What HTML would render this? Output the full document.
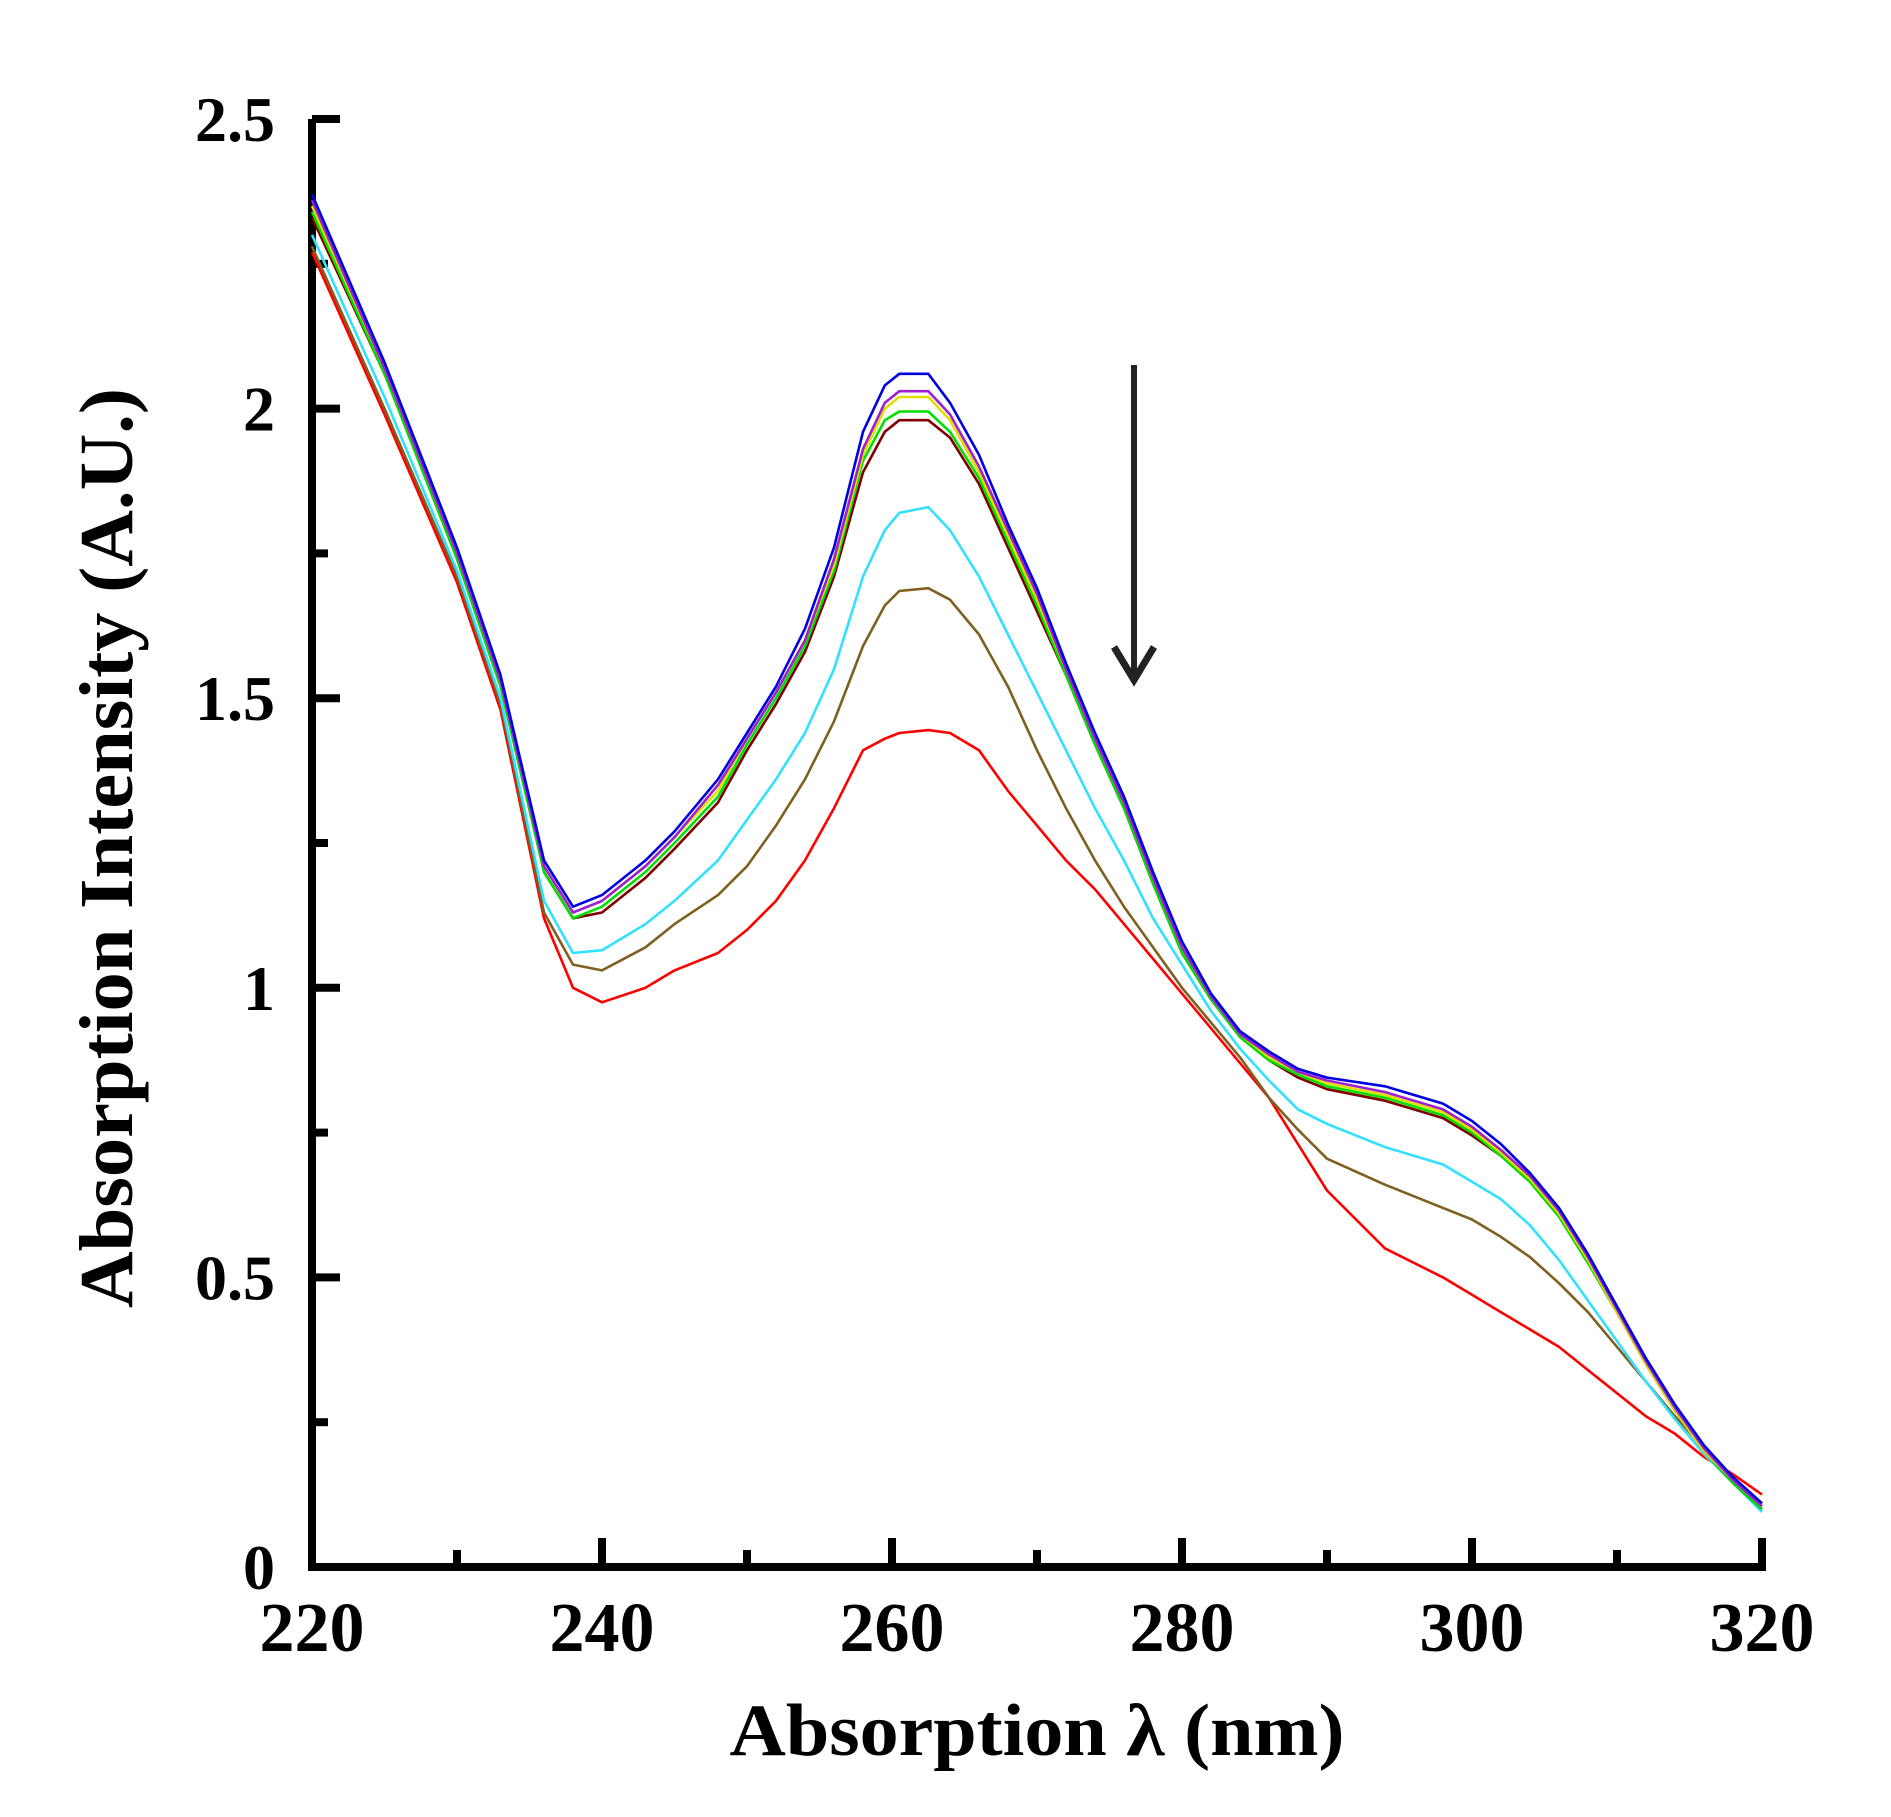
<!DOCTYPE html>
<html><head><meta charset="utf-8"><style>
html,body{margin:0;padding:0;background:#fff;}
svg{display:block;}
text{font-family:"Liberation Serif","DejaVu Serif",serif;font-weight:bold;fill:#000;}
</style></head>
<body>
<svg id="chart" width="1891" height="1817" viewBox="0 0 1891 1817" xmlns="http://www.w3.org/2000/svg">
<g id="axes"></g>
<g id="series"></g>
<g>
<line x1="1134" y1="365" x2="1134" y2="680" stroke="#222" stroke-width="6"/>
<polyline points="1114,647 1134,680 1154,647" fill="none" stroke="#222" stroke-width="7"/>
</g>
<text x="1037" y="1755" font-size="74" text-anchor="middle" textLength="615" lengthAdjust="spacingAndGlyphs">Absorption λ (nm)</text>
<text transform="translate(132,848) rotate(-90)" x="0" y="0" font-size="76" text-anchor="middle" textLength="920" lengthAdjust="spacingAndGlyphs">Absorption Intensity (A.U.)</text>
</svg>
<script>
const wavelengths=[220,225,230,233,236,238,240,243,245,248,250,252,254,256,258,259.5,260.5,262.5,264,266,268,270,272,274,276,278,280,282,284,286,288,290,294,298,300,302,304,306,308,310,312,314,316,318,320];
const redVals=[2.27,1.99,1.70,1.48,1.12,1.00,0.975,1.00,1.03,1.06,1.10,1.15,1.22,1.31,1.41,1.43,1.44,1.445,1.44,1.41,1.34,1.28,1.22,1.17,1.11,1.05,0.99,0.93,0.87,0.81,0.73,0.65,0.55,0.50,0.47,0.44,0.41,0.38,0.34,0.30,0.26,0.23,0.19,0.16,0.125];
const oliveVals=[2.28,2.0,1.71,1.49,1.13,1.04,1.03,1.07,1.11,1.16,1.21,1.28,1.36,1.46,1.59,1.66,1.685,1.69,1.67,1.61,1.52,1.41,1.31,1.22,1.14,1.07,1.0,0.94,0.88,0.81,0.755,0.705,0.66,0.62,0.60,0.57,0.535,0.49,0.44,0.38,0.32,0.26,0.205,0.155,0.11];
const cyanVals=[2.30,2.02,1.72,1.50,1.15,1.06,1.065,1.11,1.15,1.22,1.29,1.36,1.44,1.55,1.71,1.79,1.82,1.83,1.79,1.71,1.61,1.51,1.41,1.31,1.22,1.12,1.04,0.96,0.895,0.84,0.79,0.765,0.725,0.695,0.665,0.635,0.59,0.53,0.46,0.39,0.32,0.255,0.195,0.145,0.095];
const maroonVals=[2.33,2.06,1.75,1.53,1.20,1.12,1.13,1.19,1.24,1.32,1.41,1.49,1.58,1.71,1.89,1.96,1.98,1.98,1.95,1.87,1.76,1.65,1.54,1.42,1.31,1.18,1.06,0.98,0.915,0.875,0.845,0.825,0.805,0.775,0.745,0.71,0.665,0.605,0.525,0.44,0.35,0.27,0.20,0.145,0.10];
const greenVals=[2.34,2.06,1.74,1.52,1.20,1.12,1.14,1.20,1.25,1.33,1.42,1.50,1.59,1.72,1.91,1.98,1.995,1.995,1.96,1.88,1.77,1.66,1.54,1.42,1.31,1.18,1.06,0.98,0.915,0.875,0.85,0.83,0.81,0.78,0.75,0.71,0.665,0.605,0.525,0.44,0.35,0.27,0.20,0.145,0.10];
const yellowVals=[2.35,2.07,1.75,1.53,1.21,1.13,1.15,1.21,1.26,1.34,1.43,1.51,1.60,1.73,1.92,2.00,2.02,2.02,1.98,1.89,1.78,1.67,1.55,1.43,1.32,1.19,1.07,0.985,0.92,0.88,0.855,0.835,0.815,0.785,0.755,0.715,0.67,0.61,0.53,0.44,0.35,0.27,0.20,0.15,0.105];
const purpleVals=[2.36,2.07,1.75,1.53,1.21,1.13,1.15,1.21,1.26,1.35,1.43,1.51,1.60,1.74,1.93,2.01,2.03,2.03,1.99,1.90,1.79,1.68,1.55,1.43,1.32,1.19,1.07,0.985,0.92,0.885,0.855,0.84,0.82,0.79,0.76,0.72,0.675,0.615,0.535,0.445,0.355,0.275,0.205,0.15,0.105];
const blueVals=[2.37,2.08,1.76,1.54,1.22,1.14,1.16,1.22,1.27,1.36,1.44,1.52,1.62,1.76,1.96,2.04,2.06,2.06,2.01,1.92,1.80,1.69,1.56,1.44,1.33,1.20,1.08,0.99,0.925,0.89,0.86,0.845,0.83,0.80,0.77,0.73,0.68,0.62,0.54,0.45,0.36,0.28,0.21,0.155,0.11];
const xTickLabels=["220","240","260","280","300","320"];
const yTickLabels=["0","0.5","1","1.5","2","2.5"];

const NS="http://www.w3.org/2000/svg";
const X0=312,X1=1762,Y0=1567,Y1=119;
function sx(v){return X0+(v-220)/(320-220)*(X1-X0);}
function sy(v){return Y0-(v/2.5)*(Y0-Y1);}
function mk(tag,attrs,parent){const e=document.createElementNS(NS,tag);for(const k in attrs)e.setAttribute(k,attrs[k]);parent.appendChild(e);return e;}

const axes=document.getElementById('axes');
let a=mk('path',{d:`M${X0} ${Y1} V${Y0} H${X1+4}`,fill:'none',stroke:'#000','stroke-width':8},axes);


// x ticks
for(let v=220;v<=320;v+=10){
  const major=(v%20===0);
  const t=mk('line',{x1:sx(v),x2:sx(v),y1:Y0,y2:Y0-(major?29:17),stroke:'#000','stroke-width':8},axes);
  
  
}
xTickLabels.forEach(s=>{
  const tx=mk('text',{x:sx(parseFloat(s)),y:1651,'font-size':70,'text-anchor':'middle'},axes);
  tx.textContent=s;
  
  
});
for(let i=0;i<=10;i++){
  const v=i*0.25;const major=(i%2===0);
  const t=mk('line',{x1:X0,x2:X0+(major?28:16),y1:sy(v),y2:sy(v),stroke:'#000','stroke-width':8},axes);
  
  
}
yTickLabels.forEach(s=>{
  const tx=mk('text',{x:275,y:sy(parseFloat(s))+22,'font-size':64,'text-anchor':'end'},axes);
  tx.textContent=s;
  
  
});

const seriesG=document.getElementById('series');
const list=[[redVals,'#ff0000','red'],[oliveVals,'#806020','olive'],[cyanVals,'#33e0ff','cyan'],[maroonVals,'#800000','maroon'],[greenVals,'#00e000','green'],[yellowVals,'#e0e000','yellow'],[purpleVals,'#a020d0','purple'],[blueVals,'#0000e0','blue']];
list.forEach(([vals,col,nm])=>{
  const pts=wavelengths.map((w,i)=>sx(w).toFixed(1)+','+sy(vals[i]).toFixed(1)).join(' ');
  const p=mk('polyline',{points:pts,fill:'none',stroke:col,'stroke-width':2.6,'stroke-linejoin':'round'},seriesG);
  
  
});
</script>
</body></html>
